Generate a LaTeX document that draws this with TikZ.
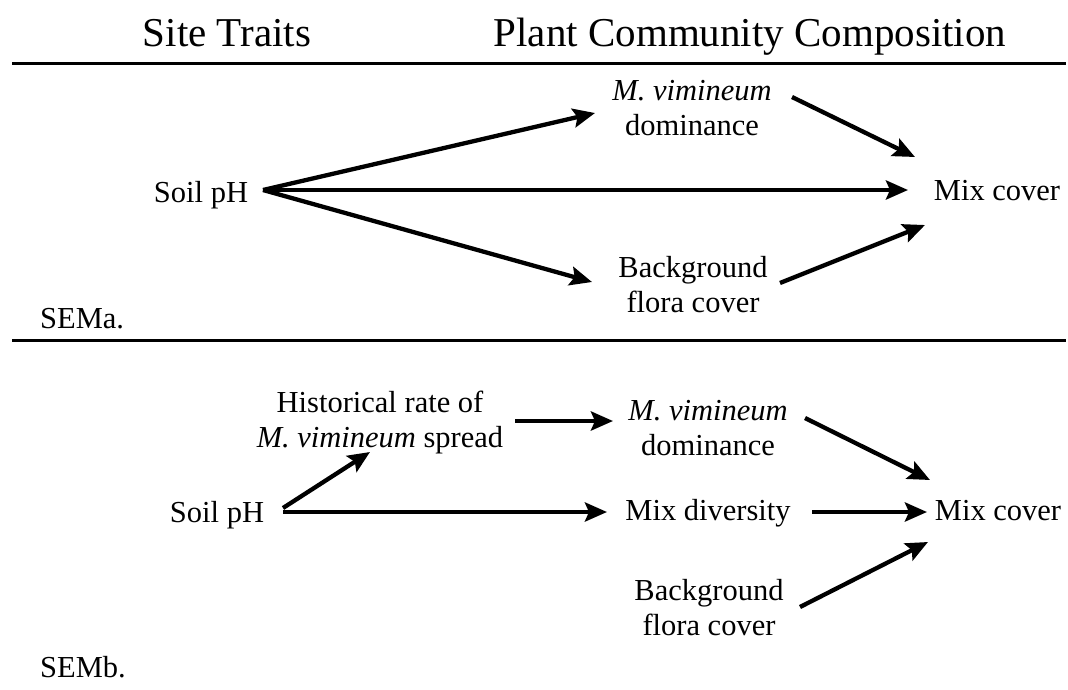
\documentclass[tikz,border=0pt]{standalone}
\usepackage{fontspec}
\setmainfont{Liberation Serif}
\usetikzlibrary{arrows.meta}
\newcommand\twolines[2]{\begin{tabular}[t]{@{}c@{}}#1\\#2\end{tabular}}
\begin{document}
\begin{tikzpicture}[x=1pt,y=-1pt,
  lbl/.style={inner sep=0pt, anchor=base, font=\fontsize{30.5}{35.5}\selectfont},
  ttl/.style={inner sep=0pt, anchor=base, font=\fontsize{41}{48}\selectfont},
  arr/.style={line width=4.3pt, -{Stealth[length=22pt,width=19pt,inset=4pt]}},
  rulestyle/.style={line width=3pt}]
\useasboundingbox (0,0) rectangle (1068,689);
% titles
\node[ttl] (t1) at (227,46) {Site Traits};
\node[ttl] (t2) at (750,46) {Plant Community Composition};
\coordinate (r1l) at (12,63); \coordinate (r1r) at (1066,63);
\draw[rulestyle] (r1l) -- (r1r);
% SEMa
\node[lbl] (soilA) at (201,202) {Soil pH};
\node[lbl] (mvimA) at (692,100) {\twolines{\textit{M. vimineum}}{dominance}};
\node[lbl] (bgA) at (693,277) {\twolines{Background}{flora cover}};
\node[lbl] (mixA) at (997,200) {Mix cover};
\node[lbl, anchor=base west] (semA) at (40,328) {SEMa.};
\coordinate (r2l) at (12,340); \coordinate (r2r) at (1066,340);
\draw[rulestyle] (r2l) -- (r2r);
\draw[arr] ([shift={(62,-12)}]soilA.base) -- ([shift={(-97,13)}]mvimA.base);
\draw[arr] ([shift={(62,-12)}]soilA.base) -- ([shift={(-89,-10)}]mixA.base);
\draw[arr] ([shift={(62,-12)}]soilA.base) -- ([shift={(-101,5)}]bgA.base);
\draw[arr] ([shift={(100,-3)}]mvimA.base) -- ([shift={(-82,-43)}]mixA.base);
\draw[arr] ([shift={(87,6)}]bgA.base) -- ([shift={(-72,25)}]mixA.base);
% SEMb
\node[lbl] (hist) at (380,412) {\twolines{Historical rate of}{\textit{M. vimineum} spread}};
\node[lbl] (soilB) at (217,522) {Soil pH};
\node[lbl] (mvimB) at (708,420) {\twolines{\textit{M. vimineum}}{dominance}};
\node[lbl] (mixdiv) at (708,520) {Mix diversity};
\node[lbl] (mixB) at (998,520) {Mix cover};
\node[lbl] (bgB) at (709,600) {\twolines{Background}{flora cover}};
\node[lbl, anchor=base west] (semB) at (40,677) {SEMb.};
\draw[arr] ([shift={(66,-14)}]soilB.base) -- ([shift={(-10,40)}]hist.base);
\draw[arr] ([shift={(66,-10)}]soilB.base) -- ([shift={(-101,-8)}]mixdiv.base);
\draw[arr] ([shift={(135,9)}]hist.base) -- ([shift={(-95,1)}]mvimB.base);
\draw[arr] ([shift={(97,-2)}]mvimB.base) -- ([shift={(-68,-40)}]mixB.base);
\draw[arr] ([shift={(104,-8)}]mixdiv.base) -- ([shift={(-71,-8)}]mixB.base);
\draw[arr] ([shift={(91,7)}]bgB.base) -- ([shift={(-70,22)}]mixB.base);
\end{tikzpicture}
\end{document}
